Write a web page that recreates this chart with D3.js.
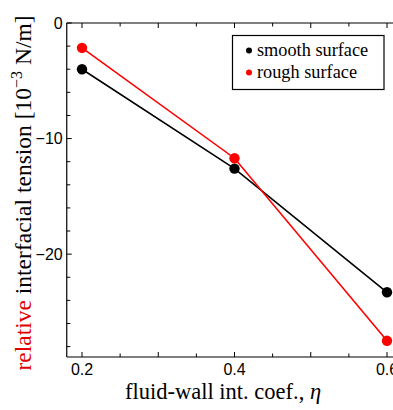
<!DOCTYPE html>
<html>
<head>
<meta charset="utf-8">
<script src="https://cdn.jsdelivr.net/npm/d3@7"></script>
<style>
  html, body { margin: 0; padding: 0; background: #fff; }
  svg { display: block; }
</style>
</head>
<body>
<div id="chart"></div>
<script>
// data
const eta = [0.2, 0.4, 0.6];
const smooth = [-4.0, -12.6, -23.3];
const rough = [-2.15, -11.7, -27.5];
const seriesNames = ["smooth surface", "rough surface"];
const seriesColors = ["#000000", "#ff0000"];
const xTickLabels = [0.2, 0.4, 0.6];
const yTickLabels = [0, -10, -20];

const W = 393, H = 410;
const SANS = "'Liberation Sans', Arial, sans-serif";
const SERIF = "'Liberation Serif', 'Times New Roman', serif";

const svg = d3.select("#chart").append("svg").attr("width", W).attr("height", H);

const x = d3.scaleLinear().domain([0.2, 0.6]).range([82, 387]);
const y = d3.scaleLinear().domain([-28.9, 0]).range([357, 23]);
const x0 = x(0.18), x1 = x(0.63);
const yTop = y(0), yBot = y(-28.9);

////////////////////////////////////////////////////////////////////////////////////
// frame: left, top, bottom (right side runs off the picture)

const frame = svg.append("g").attr("stroke", "#000").attr("stroke-width", 1.2).attr("fill", "none");
frame.append("line").attr("x1", x0).attr("x2", x0).attr("y1", yTop).attr("y2", yBot);
frame.append("line").attr("x1", x0).attr("x2", x1).attr("y1", yTop).attr("y2", yTop);
frame.append("line").attr("x1", x0).attr("x2", x1).attr("y1", yBot).attr("y2", yBot);

const xTicks = d3.range(0.2, 0.601, 0.05);
const yTicks = d3.range(0, -28.01, -2);
const isMajorX = (v) => Math.abs(v * 10 - Math.round(v * 10)) < 1e-6;
const isMajorY = (v) => Math.abs(v / 10 - Math.round(v / 10)) < 1e-6;

const ticks = svg.append("g").attr("stroke", "#000").attr("stroke-width", 1);
xTicks.forEach((v) => {
  const len = isMajorX(v) ? 5 : 3.5;
  ticks.append("line").attr("x1", x(v)).attr("x2", x(v)).attr("y1", yBot).attr("y2", yBot - len);
  ticks.append("line").attr("x1", x(v)).attr("x2", x(v)).attr("y1", yTop).attr("y2", yTop + len);
});
yTicks.forEach((v) => {
  const len = isMajorY(v) ? 5 : 3.5;
  ticks.append("line").attr("x1", x0).attr("x2", x0 + len).attr("y1", y(v)).attr("y2", y(v));
});

svg.append("g")
  .selectAll("text")
  .data(xTickLabels)
  .enter()
  .append("text")
  .attr("x", (d) => x(d))
  .attr("y", 375)
  .attr("text-anchor", "middle")
  .attr("font-family", SANS)
  .attr("font-size", "16px")
  .text((d) => d3.format(".1f")(d));

svg.append("g")
  .selectAll("text")
  .data(yTickLabels)
  .enter()
  .append("text")
  .attr("x", x0 - 4)
  .attr("y", (d) => y(d) + 5.5)
  .attr("text-anchor", "end")
  .attr("font-family", SANS)
  .attr("font-size", "16px")
  .text((d) => (d < 0 ? "\u2212" + Math.abs(d) : d));

////////////////////////////////////////////////////////////////////////////////////
// series

const series = [smooth, rough];
const line = d3.line().x((d, i) => x(eta[i])).y((d) => y(d));

series.forEach((vals, s) => {
  const g = svg.append("g");
  g.append("path")
    .datum(vals)
    .attr("d", line)
    .attr("fill", "none")
    .attr("stroke", seriesColors[s])
    .attr("stroke-width", 1.6);
  g.selectAll("circle")
    .data(vals)
    .enter()
    .append("circle")
    .attr("cx", (d, i) => x(eta[i]))
    .attr("cy", (d) => y(d))
    .attr("r", 5.2)
    .attr("fill", seriesColors[s]);
});

////////////////////////////////////////////////////////////////////////////////////
// legend

const legend = svg.append("g");
legend.append("rect")
  .attr("x", 232.5).attr("y", 35.5).attr("width", 151.5).attr("height", 54)
  .attr("fill", "#fff").attr("stroke", "#000").attr("stroke-width", 1.2);
seriesNames.forEach((name, i) => {
  const cy = 50.5 + i * 22;
  legend.append("circle").attr("cx", 249).attr("cy", cy).attr("r", 3).attr("fill", seriesColors[i]);
  legend.append("text")
    .attr("x", 257).attr("y", cy + 5)
    .attr("font-family", SERIF).attr("font-size", "18.3px")
    .text(name);
});

////////////////////////////////////////////////////////////////////////////////////
// axis titles

const xt = svg.append("text")
  .attr("x", 223).attr("y", 399)
  .attr("text-anchor", "middle")
  .attr("font-family", SERIF).attr("font-size", "22.5px");
xt.append("tspan").text("fluid-wall int. coef., ");
xt.append("tspan").attr("font-style", "italic").text("\u03b7");

const yt = svg.append("text")
  .attr("transform", "translate(31," + 193 + ") rotate(-90)")
  .attr("text-anchor", "middle")
  .attr("font-family", SERIF).attr("font-size", "23.5px");
yt.append("tspan").attr("fill", "#e00000").text("relative");
yt.append("tspan").text(" interfacial tension [10");
yt.append("tspan").attr("font-size", "16px").attr("dy", -9).text("\u22123");
yt.append("tspan").attr("dy", 9).text(" N/m]");
</script>
</body>
</html>
